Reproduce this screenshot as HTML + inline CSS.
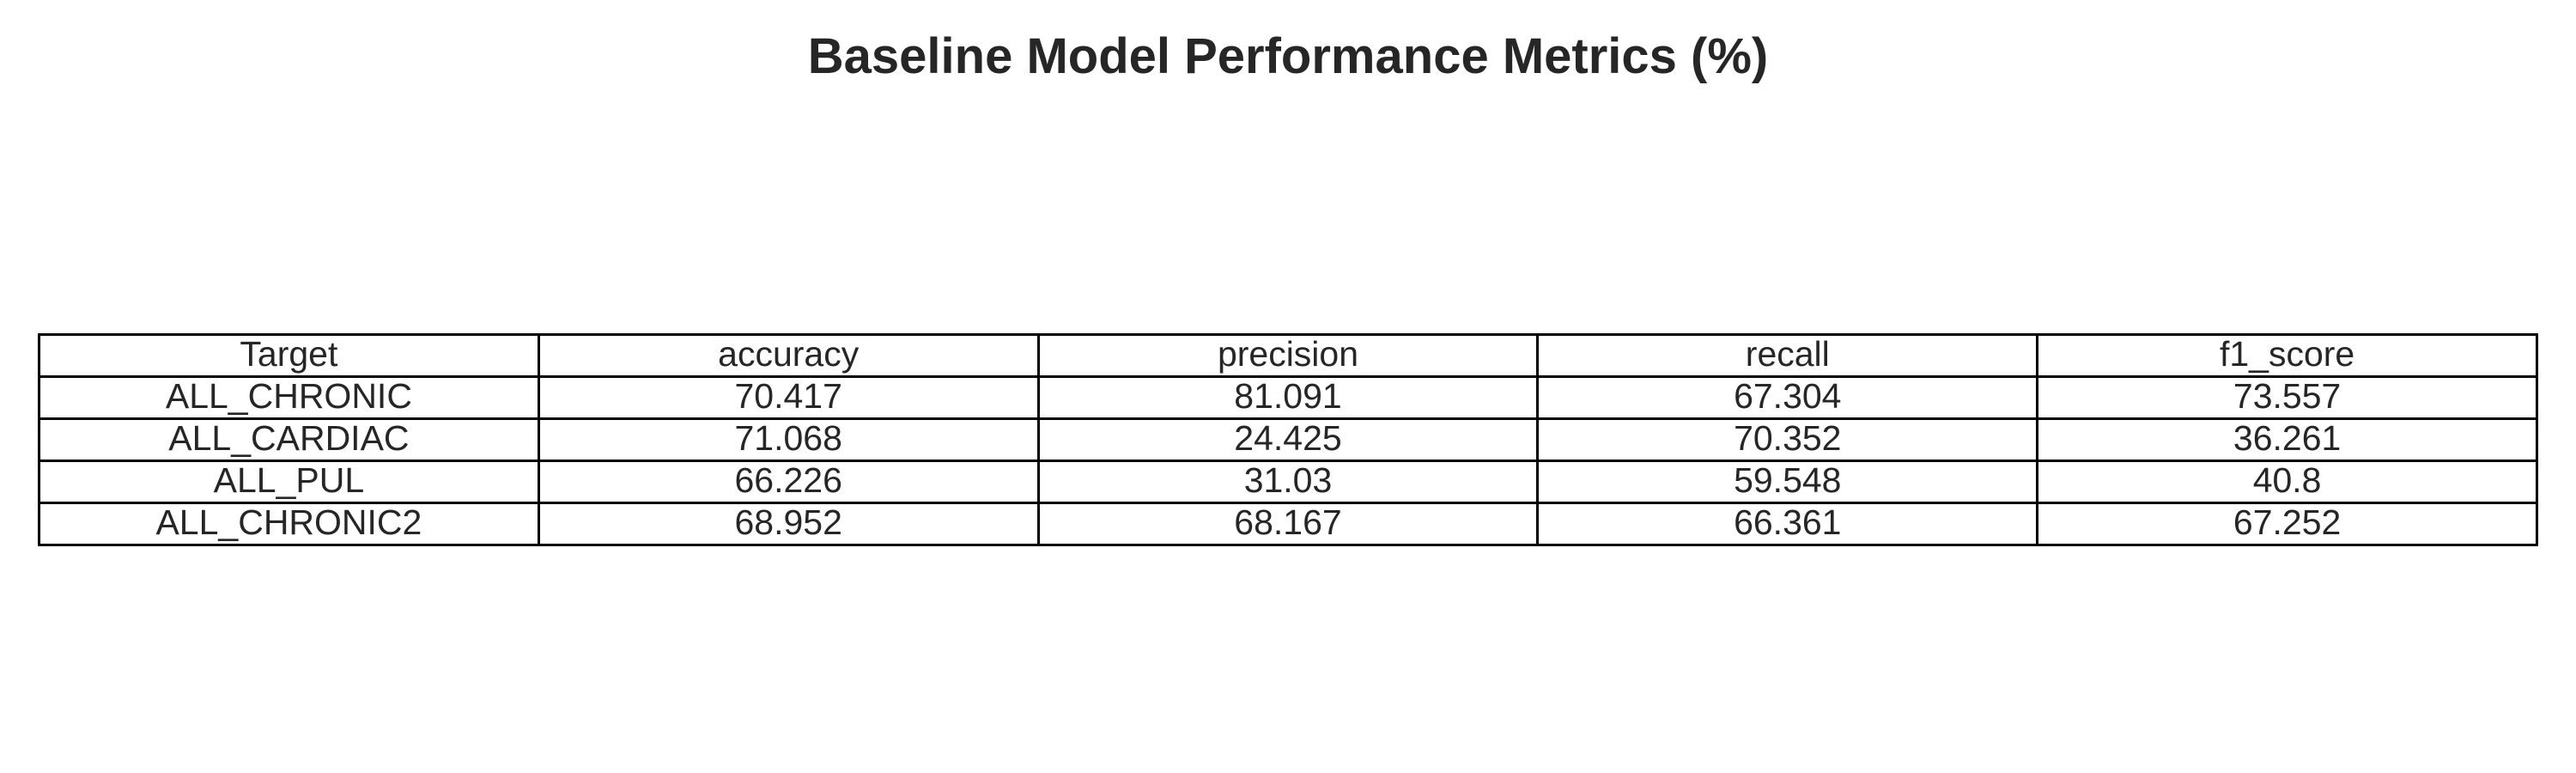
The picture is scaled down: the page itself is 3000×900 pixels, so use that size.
<!DOCTYPE html>
<html><head><meta charset="utf-8"><style>
body{margin:0;width:3000px;height:900px;background:#fff;font-family:"Liberation Sans",Arial,sans-serif;position:relative;overflow:hidden}
#title{position:absolute;left:0;width:3000px;top:34px;text-align:center;font-weight:bold;font-size:58px;color:#262626;line-height:64px}
table{position:absolute;left:44px;top:388px;width:2912px;height:248px;border-collapse:collapse;table-layout:fixed}
td{border:3px solid #000;text-align:center;font-size:41px;color:#262626;padding:0 0 4px 0;line-height:40px;height:42px}
</style></head><body>
<div id="title">Baseline Model Performance Metrics (%)</div>
<table id="t"></table>
<script>
const headers=["Target","accuracy","precision","recall","f1_score"];
const targets=["ALL_CHRONIC","ALL_CARDIAC","ALL_PUL","ALL_CHRONIC2"];
const accuracy=["70.417","71.068","66.226","68.952"];
const precision=["81.091","24.425","31.03","68.167"];
const recall=["67.304","70.352","59.548","66.361"];
const f1=["73.557","36.261","40.8","67.252"];
const t=document.getElementById('t');
function row(cells,name){const tr=document.createElement('tr');


cells.forEach((c,i)=>{const td=document.createElement('td');td.textContent=c;


tr.appendChild(td);});t.appendChild(tr);}
row(headers,'header-row');
targets.forEach((g,i)=>row([g,accuracy[i],precision[i],recall[i],f1[i]],'row-'+g.toLowerCase().replace('_','-')));
</script>
</body></html>
